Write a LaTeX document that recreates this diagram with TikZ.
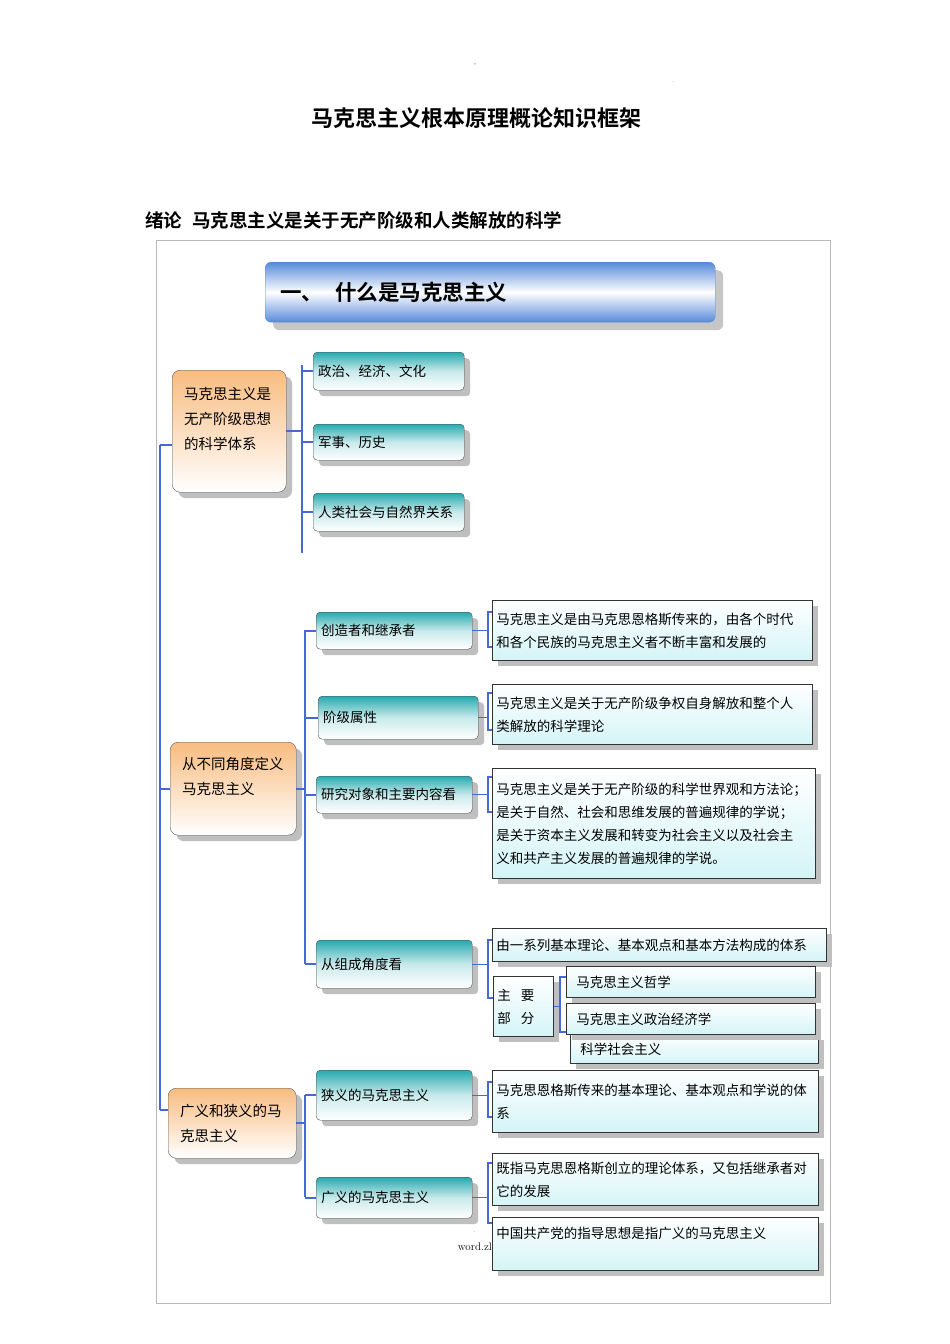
\documentclass[tikz,border=0pt]{standalone}
\usepackage{fontspec}
\newfontfamily\cjk[BoldFont={Noto Sans CJK SC Bold}]{Noto Sans CJK SC}
\usetikzlibrary{shadows}

\definecolor{linkblue}{RGB}{70,105,215}
\definecolor{tealtop}{RGB}{40,170,175}
\definecolor{orangetop}{RGB}{248,188,128}
\definecolor{bannerblue}{RGB}{88,138,218}
\definecolor{notebot}{RGB}{212,244,247}

\tikzset{
  link/.style={draw=linkblue, line width=2.2pt},
  brace/.style={draw=linkblue, line width=1.4pt},
  boxshadow/.style={drop shadow={shadow xshift=6pt, shadow yshift=-6pt, fill=gray!50, opacity=1}},
  banner/.style={anchor=north west, rounded corners=6pt, draw=bannerblue,
    top color=bannerblue, bottom color=bannerblue, middle color=white,
    minimum width=450pt, minimum height=60pt, inner xsep=15pt, text width=420pt, align=left,
    drop shadow={shadow xshift=8pt, shadow yshift=-8pt, fill=gray!45, opacity=1},
    font={\cjk\bfseries\fontsize{21.5}{24}\selectfont}},
  topicbox/.style={anchor=north west, rounded corners=8pt, draw=gray!70!black,
    top color=orangetop, bottom color=white, text width=#1, align=left,
    inner xsep=12pt, boxshadow, font={\cjk\fontsize{14.5}{25}\selectfont}},
  itembox/.style={anchor=north west, rounded corners=4pt, draw=gray!60!black,
    top color=tealtop, bottom color=white, middle color=tealtop!25, text width=#1, align=left,
    inner xsep=5pt, boxshadow, font={\cjk\fontsize{13.5}{20}\selectfont}},
  notebox/.style={anchor=north west, draw=black!80, line width=0.9pt,
    top color=white, bottom color=notebot, text width=#1, align=left,
    inner xsep=4pt, boxshadow, font={\cjk\fontsize{13.5}{23}\selectfont}},
  heading/.style={font={\cjk\bfseries\fontsize{22}{26}\selectfont}},
  subheading/.style={font={\cjk\bfseries\fontsize{18.5}{22}\selectfont}}
}

\begin{document}
\begin{tikzpicture}[x=1pt,y=-1pt]
  \useasboundingbox[fill=white] (0,0) rectangle (950,1344);
  \draw[gray!55] (156,240) rectangle (830,1303);

  \node[font=\tiny, inner sep=0pt] (dashmark) at (475,65) {-};
  \node[font=\tiny, inner sep=0pt] (dotmark) at (673,82) {.};
  \node[heading] (title) at (476,118) {马克思主义根本原理概论知识框架};
  \node[subheading, anchor=west, inner xsep=0pt] (intro) at (145,220) {绪论\hspace{10pt}马克思主义是关于无产阶级和人类解放的科学};

  \node[banner] (head) at (265,262) {一、\hspace{12pt}什么是马克思主义};

  \node[topicbox=90pt, minimum height=122pt] (sys) at (172,370) {马克思主义是\\无产阶级思想\\的科学体系\\\mbox{}};
  \node[topicbox=102pt, minimum height=93pt] (defs) at (170,742) {从不同角度定义\\马克思主义\\\mbox{}};
  \node[topicbox=104pt, minimum height=70pt] (range) at (168,1088) {广义和狭义的马\\克思主义};

  \node[itembox=141pt, minimum height=38pt] (pec) at (313,352) {政治、经济、文化};
  \node[itembox=141pt, minimum height=36pt] (mil) at (313,424) {军事、历史};
  \node[itembox=141pt, minimum height=38pt] (nat) at (313,493) {人类社会与自然界关系};
  \node[itembox=146pt, minimum height=37pt] (heir) at (316,612) {创造者和继承者};
  \node[itembox=150pt, minimum height=43pt] (cls) at (318,696) {阶级属性};
  \node[itembox=146pt, minimum height=37pt] (obj) at (316,776) {研究对象和主要内容看};
  \node[itembox=146pt, minimum height=48pt] (comp) at (316,940) {从组成角度看};
  \node[itembox=146pt, minimum height=50pt] (narrow) at (316,1070) {狭义的马克思主义};
  \node[itembox=146pt, minimum height=41pt] (broad) at (316,1177) {广义的马克思主义};

  \node[notebox=312pt, minimum height=60pt] (heirnote) at (492,600) {马克思主义是由马克思恩格斯传来的，由各个时代\\和各个民族的马克思主义者不断丰富和发展的};
  \node[notebox=312pt, minimum height=60pt] (clsnote) at (492,684) {马克思主义是关于无产阶级争权自身解放和整个人\\类解放的科学理论};
  \node[notebox=315pt, minimum height=110pt] (objnote) at (492,768) {马克思主义是关于无产阶级的科学世界观和方法论；\\是关于自然、社会和思维发展的普遍规律的学说；\\是关于资本主义发展和转变为社会主义以及社会主\\义和共产主义发展的普遍规律的学说。};
  \node[notebox=326pt, minimum height=33pt] (compnote) at (492,928) {由一系列基本理论、基本观点和基本方法构成的体系};
  \node[notebox=52pt, minimum height=60pt] (parts) at (493,976) {主\hspace{10pt}要\\部\hspace{10pt}分};
  \node[notebox=228pt, inner xsep=10pt, minimum height=29pt] (soc) at (570,1034) {科学社会主义};
  \node[notebox=229pt, inner xsep=10pt, minimum height=31pt] (econ) at (566,1003) {马克思主义政治经济学};
  \node[notebox=229pt, inner xsep=10pt, minimum height=31pt] (phil) at (566,966) {马克思主义哲学};
  \node[notebox=318pt, minimum height=62pt] (narrownote) at (492,1070) {马克思恩格斯传来的基本理论、基本观点和学说的体\\系};
  \node[notebox=318pt, minimum height=52pt] (broadnote) at (492,1153) {既指马克思恩格斯创立的理论体系，又包括继承者对\\它的发展};
  \node[font=\rmfamily\fontsize{11}{12}\selectfont, anchor=east, inner sep=0pt] (wm) at (492,1247) {word.zl};
  \node[font=\tiny, inner sep=0pt] (wmdot) at (475,1232) {.};
  \node[notebox=318pt, minimum height=53pt] (leadnote) at (492,1217) {中国共产党的指导思想是指广义的马克思主义\\\mbox{}};

  \coordinate (mainTop) at (160,445);
  \coordinate (mainBot) at (160,1110);
  \draw[link] (mainTop) -- (mainBot);
  \draw[link] (mainTop) -- (mainTop -| sys.west);
  \draw[link] (mainTop |- defs.west) -- (defs.west);
  \draw[link] (mainBot) -- (mainBot -| range.west);

  \coordinate (busAtop) at (302,365);
  \coordinate (busAbot) at (302,553);
  \draw[link] (busAtop) -- (busAbot);
  \draw[link] (sys.east) -- (sys.east -| busAtop);
  \draw[link] (pec.west -| busAtop) -- (pec.west);
  \draw[link] (mil.west -| busAtop) -- (mil.west);
  \draw[link] (nat.west -| busAtop) -- (nat.west);

  \coordinate (busBtop) at (305,630);
  \coordinate (busBbot) at (305,964);
  \draw[link] (busBtop) -- (busBbot);
  \draw[link] (defs.east) -- (defs.east -| busBtop);
  \draw[link] (heir.west -| busBtop) -- (heir.west);
  \draw[link] (cls.west -| busBtop) -- (cls.west);
  \draw[link] (obj.west -| busBtop) -- (obj.west);
  \draw[link] (comp.west -| busBtop) -- (comp.west);

  \coordinate (busCtop) at (305,1095);
  \coordinate (busCbot) at (305,1197);
  \draw[link] (busCtop) -- (busCbot);
  \draw[link] (range.east) -- (range.east -| busCtop);
  \draw[link] (narrow.west -| busCtop) -- (narrow.west);
  \draw[link] (broad.west -| busCtop) -- (broad.west);

  \coordinate (kAtop) at (488,612);
  \coordinate (kAbot) at (488,647);
  \draw[brace] (kAtop -| heirnote.west) -- (kAtop) -- (kAbot) -- (kAbot -| heirnote.west);
  \draw[brace] (heir.east) -- (heir.east -| kAtop);

  \coordinate (kBtop) at (488,693);
  \coordinate (kBbot) at (488,730);
  \draw[brace] (kBtop -| clsnote.west) -- (kBtop) -- (kBbot) -- (kBbot -| clsnote.west);
  \draw[brace] (cls.east) -- (cls.east -| kBtop);

  \coordinate (kCtop) at (488,777);
  \coordinate (kCbot) at (488,812);
  \draw[brace] (kCtop -| objnote.west) -- (kCtop) -- (kCbot) -- (kCbot -| objnote.west);
  \draw[brace] (obj.east) -- (obj.east -| kCtop);

  \coordinate (kDtop) at (488,940);
  \coordinate (kDbot) at (488,998);
  \draw[brace] (kDtop -| compnote.west) -- (kDtop) -- (kDbot) -- (kDbot -| parts.west);
  \draw[brace] (comp.east) -- (comp.east -| kDtop);

  \coordinate (kEtop) at (560,977);
  \coordinate (kEbot) at (560,1032);
  \draw[brace] (kEtop -| phil.west) -- (kEtop) -- (kEbot) -- (kEbot -| econ.west);
  \draw[brace] (parts.east) -- (parts.east -| kEtop);

  \coordinate (kFtop) at (488,1082);
  \coordinate (kFbot) at (488,1117);
  \draw[brace] (kFtop -| narrownote.west) -- (kFtop) -- (kFbot) -- (kFbot -| narrownote.west);
  \draw[brace] (narrow.east) -- (narrow.east -| kFtop);

  \coordinate (kGtop) at (488,1163);
  \coordinate (kGbot) at (488,1223);
  \draw[brace] (kGtop -| broadnote.west) -- (kGtop) -- (kGbot) -- (kGbot -| leadnote.west);
  \draw[brace] (broad.east) -- (broad.east -| kGtop);
\end{tikzpicture}
\end{document}
